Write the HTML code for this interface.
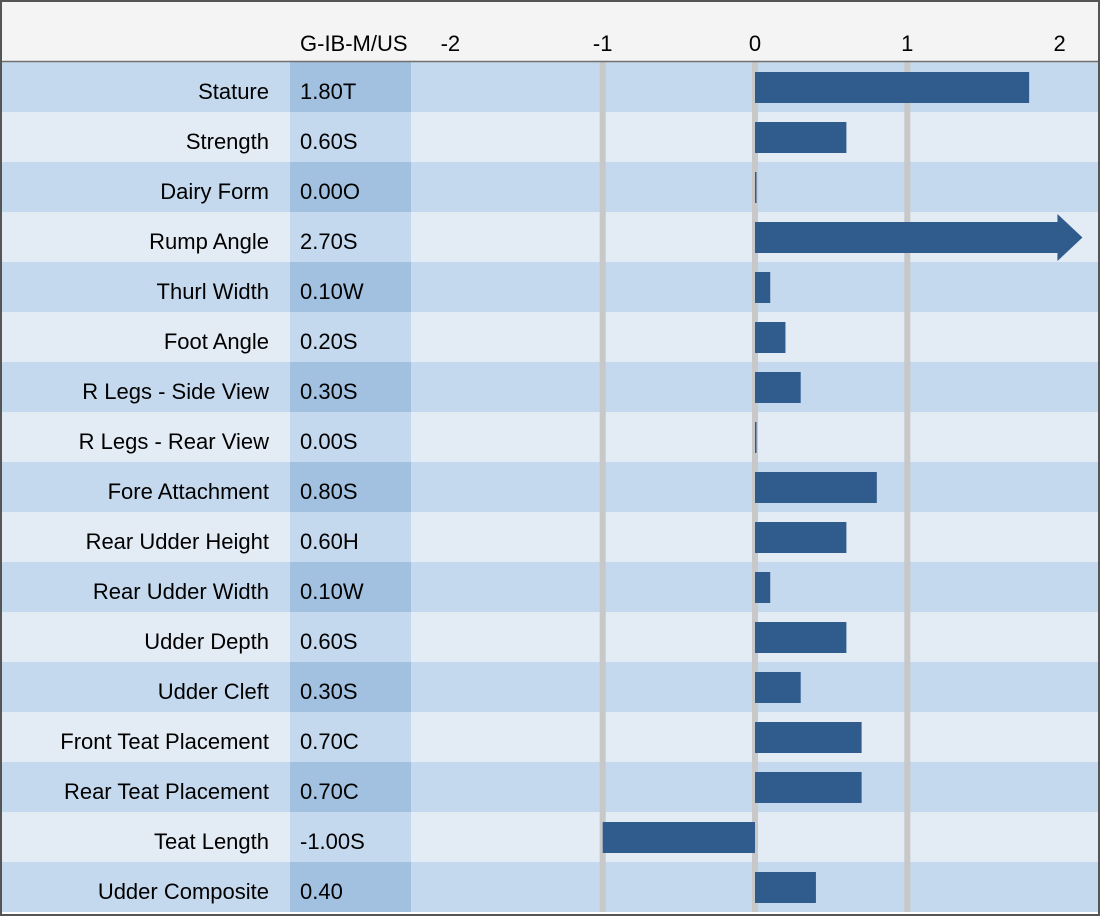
<!DOCTYPE html>
<html><head><meta charset="utf-8"><style>
body{margin:0;background:#fff}
svg{display:block;font-family:"Liberation Sans",sans-serif}
</style></head><body>
<svg id="chart" width="1100" height="917" viewBox="0 0 1100 917">
<rect x="0" y="0" width="1100" height="62" fill="#f4f4f4"/>
<g id="rows"></g><g id="grid"></g><g id="bars"></g><g id="labels"></g>
<text x="300" y="51" font-size="22" fill="#000">G-IB-M/US</text>
<line x1="0" y1="61.5" x2="1100" y2="61.5" stroke="#707070" stroke-width="1.5"/>
<rect x="1" y="1" width="1098" height="914" fill="none" stroke="#555" stroke-width="2"/>
</svg>
<script>
const traits=["Stature","Strength","Dairy Form","Rump Angle","Thurl Width","Foot Angle","R Legs - Side View","R Legs - Rear View","Fore Attachment","Rear Udder Height","Rear Udder Width","Udder Depth","Udder Cleft","Front Teat Placement","Rear Teat Placement","Teat Length","Udder Composite"];
const values=[1.8,0.6,0.0,2.7,0.1,0.2,0.3,0.0,0.8,0.6,0.1,0.6,0.3,0.7,0.7,-1.0,0.4];
const codes=["T","S","O","S","W","S","S","S","S","H","W","S","S","C","C","S",""];
const ticks=[-2,-1,0,1,2];
const gridTicks=[-1,0,1];
const NS="http://www.w3.org/2000/svg";
const x0=755,unit=152.3,rowTop=62,rowH=50,xMax=2.15;
const xs=v=>x0+v*unit;
const yr=i=>rowTop+i*rowH;
function mk(t,a,p){const e=document.createElementNS(NS,t);for(const k in a)e.setAttribute(k,a[k]);p.appendChild(e);return e;}
const rows=document.getElementById('rows'),grid=document.getElementById('grid'),bars=document.getElementById('bars'),labels=document.getElementById('labels');
traits.forEach((t,i)=>{
  const dark=i%2===0;
  const r=mk('rect',{x:0,y:yr(i),width:1100,height:rowH,fill:dark?'#c5d9ee':'#e3ebf5'},rows);
  
  
  const c=mk('rect',{x:290,y:yr(i),width:121,height:rowH,fill:dark?'#a2c1e0':'#c5d9ee'},rows);
  
  
  const l=mk('text',{x:269,y:yr(i)+37,'text-anchor':'end','font-size':22,fill:'#000'},labels);
  l.textContent=t;
  
  
  const v=mk('text',{x:300,y:yr(i)+37,'font-size':22,fill:'#000'},labels);
  v.textContent=values[i].toFixed(2)+codes[i];
  
  
});
gridTicks.forEach(t=>{
  const g=mk('line',{x1:xs(t),x2:xs(t),y1:rowTop,y2:yr(traits.length),stroke:'#c8c8c8','stroke-width':6},grid);
  
  
});
ticks.forEach(t=>{
  const e=mk('text',{x:xs(t),y:51,'text-anchor':'middle','font-size':22,fill:'#000'},labels);
  e.textContent=t;
  
  
});
values.forEach((v,i)=>{
  const y=yr(i)+10,h=31;
  let el;
  if(v>xMax){
    const shaftEnd=xs(xMax)-25,tip=xs(xMax);
    el=mk('polygon',{points:`${x0},${y} ${shaftEnd},${y} ${shaftEnd},${y-8} ${tip},${y+h/2} ${shaftEnd},${y+h+8} ${shaftEnd},${y+h} ${x0},${y+h}`,fill:'#2f5c8d'},bars);
  }else{
    const a=Math.min(xs(0),xs(v)),w=Math.max(Math.abs(xs(v)-xs(0)),1.5);
    el=mk('rect',{x:a,y:y,width:w,height:h,fill:'#2f5c8d'},bars);
  }
  
  
});
</script>
</body></html>
